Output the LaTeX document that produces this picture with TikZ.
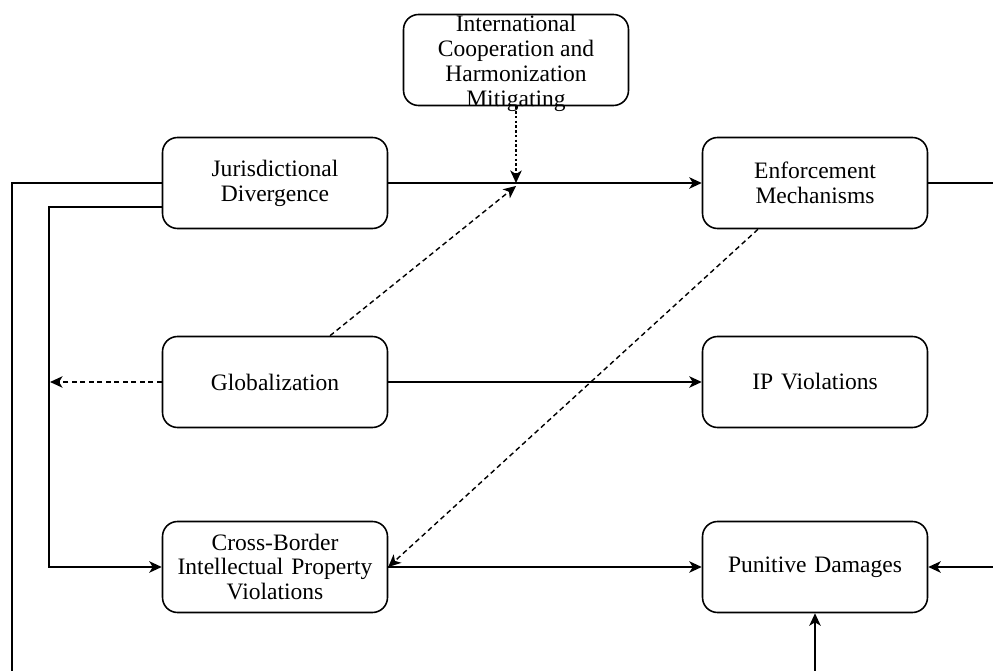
\documentclass[tikz,border=0pt]{standalone}
\usepackage{fontspec}
\setmainfont{Liberation Serif}
\usetikzlibrary{arrows.meta}
\begin{document}
\begin{tikzpicture}[x=0.02cm,y=-0.02cm,
  labelfont/.style={font=\fontsize{13.4}{14.2}\selectfont},
  box/.style={draw, line width=0.9pt, rounded corners=0.3cm,
    minimum width=4.5cm, minimum height=1.82cm, inner sep=0pt,
    align=center, text width=4.4cm, labelfont},
  link/.style={line width=0.8pt},
  tip/.style={-{Stealth[length=2.5mm,width=2.3mm,inset=0.7mm]}},
  dashline/.style={dash pattern=on 1mm off 0.7mm},
  dotline/.style={dash pattern=on 0.5mm off 0.45mm}]
\useasboundingbox (0,0) rectangle (993,671);

% nodes
\node[box] (coop) at (516,60) {};
\node[align=center, inner sep=0pt, labelfont]
  (cooptext) at (516,63) {International\\Cooperation and\\Harmonization\\Mitigating};
\node[box] (jur) at (275,183) {Jurisdictional\\Divergence};
\node[box] (enf) at (815,183) {Enforcement\\Mechanisms};
\node[box] (glob) at (275,382) {Globalization};
\node[box] (ipv) at (815,382) {IP Violations};
\node[box] (cbv) at (275,567) {Cross-Border\\Intellectual Property\\Violations};
\node[box] (pun) at (815,567) {Punitive Damages};

% helper coordinates
\coordinate (merge) at (516,183);
\coordinate (mergein) at (516,186);
\coordinate (outerbot) at (12,671);
\coordinate (rightend) at (993,183);
\coordinate (rightin) at (993,567);
\coordinate (botin) at (815,671);
\coordinate (innerrail) at (49,382);

% solid connectors
\draw[link] (jur.west) -- (12,183) -- (outerbot);
\draw[link, tip] (jur.west |- 0,207) -- (49,207) -- (49,567) -- (cbv.west);
\draw[link, tip] (jur.east) -- (enf.west);
\draw[link] (enf.east) -- (rightend);
\draw[link, tip] (glob.east) -- (ipv.west);
\draw[link, tip] (cbv.east) -- (pun.west);
\draw[link, tip] (rightin) -- (pun.east);
\draw[link, tip] (botin) -- (pun.south);

% dashed / dotted connectors
\draw[link, dotline, tip] (coop.south) -- (merge);
\draw[link, dashline, tip] (glob.north -| 330,0) -- (mergein);
\draw[link, dashline, tip] (glob.west) -- ([xshift=0.6pt]innerrail);
\draw[link, dashline, tip] (enf.south -| 758,0) -- (cbv.east);
\end{tikzpicture}
\end{document}
